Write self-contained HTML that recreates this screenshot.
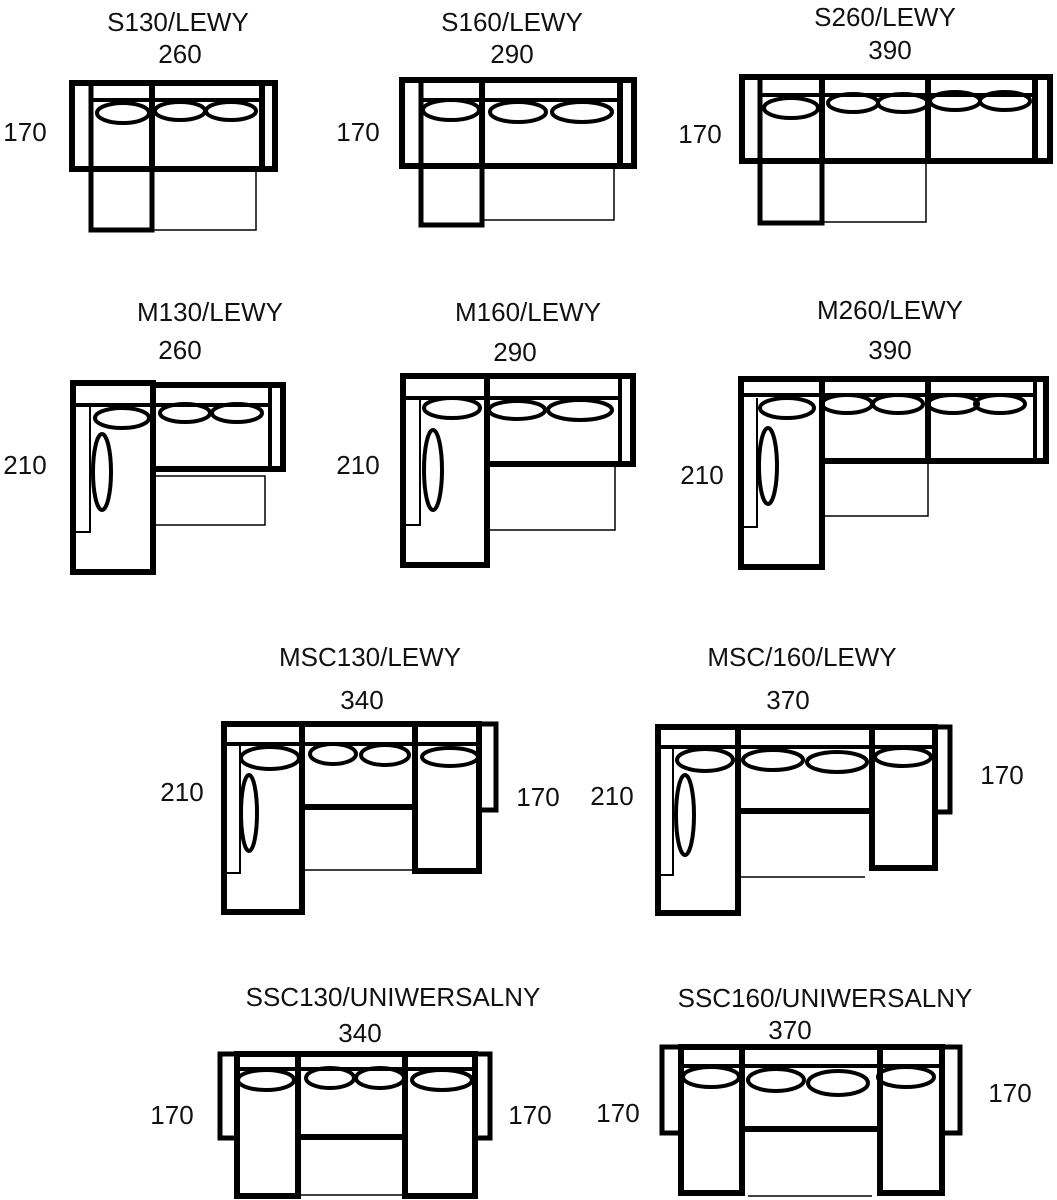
<!DOCTYPE html>
<html><head><meta charset="utf-8"><style>
html,body{margin:0;padding:0;background:#fff;}
svg{display:block;}
text{font-family:"Liberation Sans",sans-serif;font-size:26px;fill:#111;text-anchor:middle;}
.k{fill:none;stroke:#000;}
</style></head><body>
<svg width="1057" height="1200" viewBox="0 0 1057 1200" xmlns="http://www.w3.org/2000/svg">
<!-- S130 -->
<text x="178" y="31">S130/LEWY</text><text x="180" y="63">260</text><text x="25" y="141">170</text>
<g class="k">
<rect x="72" y="83" width="203" height="86" stroke-width="6"/>
<rect x="91" y="83" width="61" height="147" stroke-width="5"/>
<rect x="152" y="83" width="110" height="86" stroke-width="6"/>
<line x1="91" y1="100" x2="262" y2="100" stroke-width="4"/>
<rect x="152" y="169" width="104" height="61" stroke-width="1.5"/>
<ellipse cx="123" cy="113" rx="26" ry="10" stroke-width="4"/>
<ellipse cx="180" cy="111" rx="25" ry="9" stroke-width="4"/>
<ellipse cx="231" cy="111" rx="25" ry="9" stroke-width="4"/>
</g>
<!-- S160 -->
<text x="512" y="31">S160/LEWY</text><text x="512" y="63">290</text><text x="358" y="141">170</text>
<g class="k">
<rect x="402" y="80" width="232" height="86" stroke-width="6"/>
<rect x="421" y="80" width="61" height="145" stroke-width="5"/>
<rect x="482" y="80" width="138" height="86" stroke-width="6"/>
<line x1="421" y1="100" x2="620" y2="100" stroke-width="4"/>
<rect x="482" y="166" width="132" height="54" stroke-width="1.5"/>
<ellipse cx="451" cy="110" rx="28" ry="10" stroke-width="4"/>
<ellipse cx="518" cy="112" rx="28" ry="10" stroke-width="4"/>
<ellipse cx="582" cy="112" rx="30" ry="10" stroke-width="4"/>
</g>
<!-- S260 -->
<text x="885" y="26">S260/LEWY</text><text x="890" y="59">390</text><text x="700" y="143">170</text>
<g class="k">
<rect x="742" y="77" width="308" height="84" stroke-width="6"/>
<rect x="760" y="77" width="62" height="146" stroke-width="5"/>
<rect x="822" y="77" width="106" height="84" stroke-width="6"/>
<rect x="928" y="77" width="107" height="84" stroke-width="6"/>
<line x1="760" y1="95" x2="1035" y2="95" stroke-width="4"/>
<rect x="822" y="161" width="104" height="61" stroke-width="1.5"/>
<ellipse cx="791" cy="108" rx="27" ry="10" stroke-width="4"/>
<ellipse cx="853" cy="103" rx="25" ry="9" stroke-width="4"/>
<ellipse cx="903" cy="103" rx="25" ry="9" stroke-width="4"/>
<ellipse cx="955" cy="101" rx="25" ry="9" stroke-width="4"/>
<ellipse cx="1005" cy="101" rx="25" ry="9" stroke-width="4"/>
</g>
<!-- M130 -->
<text x="210" y="321">M130/LEWY</text><text x="180" y="359">260</text><text x="25" y="474">210</text>
<g class="k">
<rect x="73" y="383" width="80" height="189" stroke-width="6"/>
<rect x="153" y="385" width="130" height="84" stroke-width="6"/>
<line x1="270" y1="385" x2="270" y2="469" stroke-width="4"/>
<polyline points="90,405 90,532 73,532" stroke-width="2"/>
<line x1="73" y1="405" x2="270" y2="405" stroke-width="4"/>
<rect x="155" y="476" width="110" height="49" stroke-width="1.5"/>
<ellipse cx="122" cy="418" rx="27" ry="10" stroke-width="4"/>
<ellipse cx="185" cy="413" rx="25" ry="9" stroke-width="4"/>
<ellipse cx="237" cy="413" rx="25" ry="9" stroke-width="4"/>
<ellipse cx="102" cy="472" rx="9" ry="38" stroke-width="4"/>
</g>
<!-- M160 -->
<text x="528" y="321">M160/LEWY</text><text x="515" y="361">290</text><text x="358" y="474">210</text>
<g class="k">
<rect x="403" y="376" width="84" height="189" stroke-width="6"/>
<rect x="487" y="376" width="146" height="88" stroke-width="6"/>
<line x1="620" y1="376" x2="620" y2="464" stroke-width="4"/>
<polyline points="420,398 420,525 403,525" stroke-width="2"/>
<line x1="403" y1="398" x2="620" y2="398" stroke-width="4"/>
<rect x="487" y="464" width="128" height="66" stroke-width="1.5"/>
<ellipse cx="452" cy="408" rx="28" ry="10" stroke-width="4"/>
<ellipse cx="517" cy="410" rx="28" ry="9" stroke-width="4"/>
<ellipse cx="580" cy="410" rx="32" ry="10" stroke-width="4"/>
<ellipse cx="433" cy="470" rx="9" ry="40" stroke-width="4"/>
</g>
<!-- M260 -->
<text x="890" y="319">M260/LEWY</text><text x="890" y="359">390</text><text x="702" y="484">210</text>
<g class="k">
<rect x="741" y="379" width="81" height="188" stroke-width="6"/>
<rect x="822" y="379" width="106" height="82" stroke-width="6"/>
<rect x="928" y="379" width="118" height="82" stroke-width="6"/>
<line x1="1035" y1="379" x2="1035" y2="461" stroke-width="4"/>
<polyline points="757,398 757,527 741,527" stroke-width="2"/>
<line x1="741" y1="395" x2="1035" y2="395" stroke-width="4"/>
<rect x="822" y="461" width="106" height="55" stroke-width="1.5"/>
<ellipse cx="787" cy="408" rx="27" ry="10" stroke-width="4"/>
<ellipse cx="847" cy="404" rx="25" ry="9" stroke-width="4"/>
<ellipse cx="898" cy="404" rx="25" ry="9" stroke-width="4"/>
<ellipse cx="953" cy="404" rx="25" ry="9" stroke-width="4"/>
<ellipse cx="1000" cy="404" rx="25" ry="9" stroke-width="4"/>
<ellipse cx="768" cy="466" rx="9" ry="38" stroke-width="4"/>
</g>
<!-- MSC130 -->
<text x="370" y="666">MSC130/LEWY</text><text x="362" y="709">340</text><text x="182" y="801">210</text><text x="538" y="806">170</text>
<g class="k">
<rect x="224" y="724" width="78" height="188" stroke-width="6"/>
<rect x="302" y="724" width="113" height="83" stroke-width="6"/>
<rect x="415" y="724" width="64" height="147" stroke-width="6"/>
<polyline points="479,724 496,724 496,810 479,810" stroke-width="5"/>
<polyline points="240,745 240,873 224,873" stroke-width="2"/>
<line x1="224" y1="744" x2="479" y2="744" stroke-width="4"/>
<line x1="305" y1="870" x2="415" y2="870" stroke-width="1.5"/>
<ellipse cx="270" cy="758" rx="29" ry="11" stroke-width="4"/>
<ellipse cx="333" cy="754" rx="23" ry="10" stroke-width="4"/>
<ellipse cx="385" cy="755" rx="24" ry="10" stroke-width="4"/>
<ellipse cx="450" cy="757" rx="28" ry="9" stroke-width="4"/>
<ellipse cx="249" cy="813" rx="8" ry="38" stroke-width="4"/>
</g>
<!-- MSC160 -->
<text x="802" y="666">MSC/160/LEWY</text><text x="788" y="709">370</text><text x="612" y="805">210</text><text x="1002" y="784">170</text>
<g class="k">
<rect x="658" y="727" width="80" height="186" stroke-width="6"/>
<rect x="738" y="727" width="134" height="84" stroke-width="6"/>
<rect x="872" y="727" width="63" height="141" stroke-width="6"/>
<polyline points="935,727 950,727 950,812 935,812" stroke-width="5"/>
<polyline points="673,747 673,875 658,875" stroke-width="2"/>
<line x1="658" y1="747" x2="935" y2="747" stroke-width="4"/>
<line x1="740" y1="877" x2="865" y2="877" stroke-width="1.5"/>
<ellipse cx="705" cy="760" rx="28" ry="11" stroke-width="4"/>
<ellipse cx="773" cy="760" rx="30" ry="10" stroke-width="4"/>
<ellipse cx="837" cy="762" rx="30" ry="10" stroke-width="4"/>
<ellipse cx="903" cy="757" rx="28" ry="9" stroke-width="4"/>
<ellipse cx="685" cy="815" rx="9" ry="40" stroke-width="4"/>
</g>
<!-- SSC130 -->
<text x="393" y="1006">SSC130/UNIWERSALNY</text><text x="360" y="1042">340</text><text x="172" y="1124">170</text><text x="530" y="1124">170</text>
<g class="k">
<polyline points="236,1138 220,1138 220,1054 490,1054 490,1138 476,1138" stroke-width="5"/>
<rect x="237" y="1054" width="61" height="142" stroke-width="6"/>
<rect x="298" y="1054" width="107" height="83" stroke-width="6"/>
<rect x="405" y="1054" width="70" height="142" stroke-width="6"/>
<line x1="237" y1="1069" x2="475" y2="1069" stroke-width="4"/>
<line x1="298" y1="1195" x2="405" y2="1195" stroke-width="1.5"/>
<ellipse cx="266" cy="1080" rx="28" ry="10" stroke-width="4"/>
<ellipse cx="330" cy="1078" rx="24" ry="10" stroke-width="4"/>
<ellipse cx="380" cy="1078" rx="24" ry="10" stroke-width="4"/>
<ellipse cx="442" cy="1080" rx="30" ry="10" stroke-width="4"/>
</g>
<!-- SSC160 -->
<text x="825" y="1007">SSC160/UNIWERSALNY</text><text x="790" y="1039">370</text><text x="618" y="1122">170</text><text x="1010" y="1102">170</text>
<g class="k">
<polyline points="680,1133 662,1133 662,1047 960,1047 960,1133 942,1133" stroke-width="5"/>
<rect x="681" y="1047" width="61" height="146" stroke-width="6"/>
<rect x="742" y="1047" width="138" height="82" stroke-width="6"/>
<rect x="880" y="1047" width="62" height="146" stroke-width="6"/>
<line x1="681" y1="1066" x2="942" y2="1066" stroke-width="4"/>
<line x1="748" y1="1196" x2="872" y2="1196" stroke-width="1.5"/>
<ellipse cx="711" cy="1077" rx="28" ry="10" stroke-width="4"/>
<ellipse cx="776" cy="1080" rx="28" ry="11" stroke-width="4"/>
<ellipse cx="838" cy="1083" rx="30" ry="12" stroke-width="4"/>
<ellipse cx="906" cy="1077" rx="28" ry="10" stroke-width="4"/>
</g>
</svg>
</body></html>
